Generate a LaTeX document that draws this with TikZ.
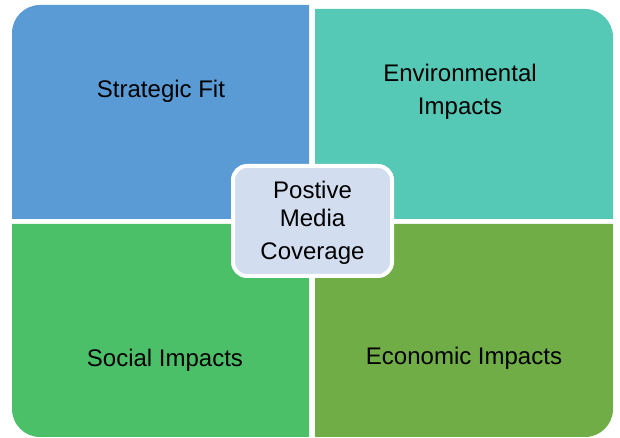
\documentclass[tikz,border=0pt]{standalone}
\usepackage{fontspec}
\setmainfont{Liberation Sans}
\usepackage{tikz}
\usepackage{xcolor}
\definecolor{fitblue}{HTML}{5B9BD5}
\definecolor{envteal}{HTML}{55C9B6}
\definecolor{socgreen}{HTML}{4CC069}
\definecolor{ecogreen}{HTML}{70AD47}
\definecolor{hubfill}{HTML}{D2DDEF}

\begin{document}
\begin{tikzpicture}
	[x=1pt, y=1pt, label/.style = {font=\fontsize{24}{33}\selectfont, align=center, text=black},
	hub/.style = {draw=white, line width=4pt, fill=hubfill, rounded corners=14pt, minimum width=159pt, minimum height=110pt}]
	\useasboundingbox (0,0) rectangle (620,438);
	% quadrants
	\fill[fitblue] (309,219) -- (12,219) -- (12,405) arc[start angle=180, end angle=90, radius=28] -- (309,433) -- cycle;
	\fill[envteal] (315,219) -- (315,429) -- (585,429) arc[start angle=90, end angle=0, radius=28] -- (613,219) -- cycle;
	\fill[socgreen] (309,214) -- (309,1) -- (40,1) arc[start angle=270, end angle=180, radius=28] -- (12,214) -- cycle;
	\fill[ecogreen] (315,214) -- (315,1) -- (585,1) arc[start angle=-90, end angle=0, radius=28] -- (613,214) -- cycle;
	\node[label, anchor=base] (fit) at (161,340.5) {Strategic Fit};
	\node[label] (env) at (460,346.5) {Environmental\\Impacts};
	\node[label, anchor=base] (soc) at (165,71.5) {Social Impacts};
	\node[label, anchor=base] (eco) at (464,73.5) {Economic Impacts};
	% centre
	\node[hub] (hub) at (312.5,217) {};
	\node[label, font=\fontsize{24}{28}\selectfont] (media) at (312.5,215) {Postive\\Media\\[5pt]Coverage};
\end{tikzpicture}
\end{document}
